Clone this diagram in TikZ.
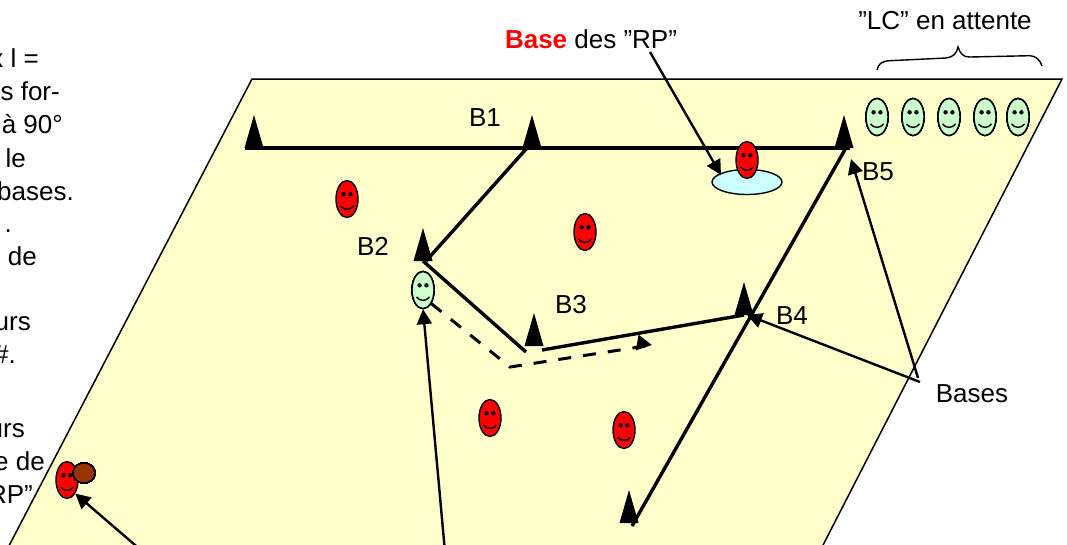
\documentclass[tikz,border=0pt]{standalone}
\usepackage{fontspec}
\setmainfont{Liberation Sans}
\usetikzlibrary{shapes.geometric,arrows.meta}
\definecolor{plancolor}{HTML}{FFFFCC}
\definecolor{lccolor}{HTML}{CCFFCC}
\definecolor{basecolor}{HTML}{CCFFFF}
\definecolor{ballcolor}{HTML}{993300}
\tikzset{
  smileyface/.style={draw, ellipse, line width=1.4pt, minimum width=22pt, minimum height=37pt, inner sep=0pt},
  label/.style={inner sep=0pt, font=\fontsize{26}{30}\selectfont},
  sidetext/.style={label, anchor=base east},
  route/.style={line width=3.4pt},
  pointer/.style={line width=2.4pt, -{Triangle[length=15pt,width=15pt]}},
}
\newcommand{\smiley}[4]{%
  \node[smileyface, fill=#4] (#1) at (#2,#3) {};
  \fill ([shift={(-3.4,-4.7)}]#1.center) circle (2.2);
  \fill ([shift={(3.4,-4.7)}]#1.center) circle (2.2);
  \draw[line width=1.4pt] ([shift={(-6.5,7)}]#1.center) .. controls ([shift={(-3,11.5)}]#1.center) and ([shift={(3,11.5)}]#1.center) .. ([shift={(6.5,7)}]#1.center);
}
\newcommand{\cone}[3]{%
  \coordinate (#1) at (#2,#3);
  \fill ([xshift=-9.5pt]#1) -- ([yshift=33pt]#1) -- ([xshift=9.5pt]#1) -- cycle;
}
\begin{document}
\begin{tikzpicture}[x=1pt,y=-1pt]
    \useasboundingbox (0,0) rectangle (1067,544);
    \clip (0,0) rectangle (1067,544);

    % texte de gauche
    \foreach \xe/\ye/\txt in {39/67/{x l =},60/100/{s for-},63/133/{à 90°},26/167/{le},74/200/{bases.},12/232/{.},37/265/{de},31/330/{urs},16/363/{\#.},25/437/{urs},45/470/{e de},33/503/{RP"}}
        \node[sidetext] (txt\ye) at (\xe,\ye) {\txt};

    % plan
    \draw[fill=plancolor, line width=1.5pt] (252,79) -- (1062,79) -- (800,590) -- (-14,590) -- cycle;

    % base des RP
    \node[draw, ellipse, fill=basecolor, line width=1.4pt, minimum width=70pt, minimum height=25pt, inner sep=0pt] (baserp) at (747,182) {};

    % bases
    \cone{b1}{254}{148}
    \cone{bm}{532}{148}
    \cone{b5}{844}{148}
    \cone{b2}{423}{261}
    \cone{b3}{534}{346}
    \cone{b4}{744}{315}
    \cone{b6}{629}{523}

    % trajet
    \draw[route] ([xshift=-9pt]b1) -- ([xshift=6pt]b5);
    \draw[route] ([xshift=-5pt]bm) -- ([xshift=3pt]b2);
    \draw[route] (b2) -- ([xshift=-8pt,yshift=-6pt]b3);
    \draw[route] ([xshift=8pt,yshift=-4pt]b3) -- (b4);
    \draw[route] ([xshift=3pt,yshift=2pt]b5) -- ([xshift=3pt,yshift=-3pt]b6);

    % joueurs
    \foreach \n/\x/\y in {r1/747/160,r2/347/199,r3/585/232,r4/490/418,r5/624/430,r6/67/480}
        \smiley{\n}{\x}{\y}{red}
    \foreach \n/\x/\y in {lc1/877/117,lc2/913/117,lc3/949/117,lc4/985/117,lc5/1018/117,lc6/423/290}
        \smiley{\n}{\x}{\y}{lccolor}
    \node[draw, ellipse, fill=ballcolor, line width=1.4pt, minimum width=22pt, minimum height=20pt, inner sep=0pt] (ball) at (84,473) {};

    % deplacement du LC
    \coordinate (turn) at (510,367);
    \coordinate (dashend) at (652,345);
    \draw[route, line width=3pt, dash pattern=on 13pt off 12pt] (lc6.south east) -- (turn) -- (dashend);
    \draw[pointer, line width=3pt] ([xshift=-12pt,yshift=2pt]dashend) -- (dashend);

    % textes
    \node[label] (lb1) at (485,118) {B1};
    \node[label] (lb2) at (373,246) {B2};
    \node[label] (lb3) at (571,305) {B3};
    \node[label] (lb4) at (792,316) {B4};
    \node[label] (lb5) at (878,172) {B5};
    \node[label] (lbases) at (972,394) {Bases};
    \node[label] (lrp) at (591,39) {\textcolor{red}{\bfseries Base} des "RP"};
    \node[label] (llc) at (945,21) {"LC" en attente};

    % accolade
    \draw[line width=1.4pt] (877,70) .. controls (878,64) and (882,61) .. (890,60.7) -- (946,58) .. controls (953,57.5) and (957,53) .. (958,47) .. controls (960,53) and (963,57.5) .. (970,57) -- (1030,55.7) .. controls (1036,56) and (1040,60) .. (1042,66);

    % fleches
    \coordinate (rpfoot) at (650,52);
    \coordinate (basesa) at (918,378);
    \coordinate (basesb) at (920,382);
    \coordinate (lcfoot) at (445,552);
    \coordinate (rpballfoot) at (142,551);
    \coordinate (tipb5) at (851,159);
    \coordinate (tipb4) at (747,315);
    \coordinate (tiprp) at (721,175);
    \draw[pointer] (rpfoot) -- (tiprp);
    \draw[pointer] (basesa) -- (tipb5);
    \draw[pointer] (basesb) -- (tipb4);
    \draw[pointer] (lcfoot) -- (lc6.south);
    \draw[pointer] (rpballfoot) -- (r6.south east);
\end{tikzpicture}
\end{document}
